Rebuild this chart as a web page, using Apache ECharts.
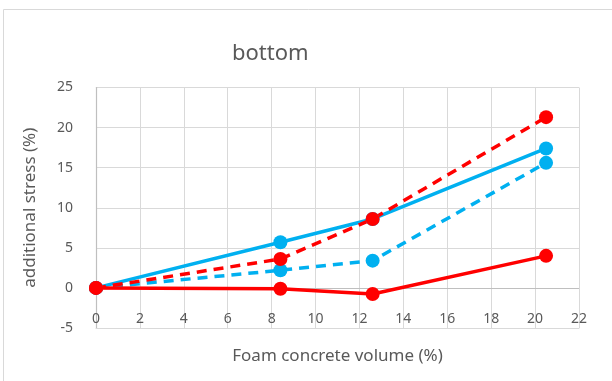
<!DOCTYPE html>
<html>
<head>
<meta charset="utf-8">
<script src="https://cdn.jsdelivr.net/npm/echarts@6/dist/echarts.min.js"></script>
<style>
  html, body { margin: 0; padding: 0; background: #fff; }
  #chart { width: 612px; height: 381px; }
</style>
</head>
<body>
<div id="chart"></div>
<script>
// Foam concrete volume (%) at each measurement point
const volumes = [0, 8.4, 12.6, 20.5];

// Additional stress (%) at the bottom, four cases
const blueSolid  = [0, 5.7, 8.6, 17.4];
const blueDashed = [0, 2.2, 3.4, 15.6];
const redSolid   = [0, -0.1, -0.75, 4.0];
const redDashed  = [0, 3.6, 8.6, 21.3];

const xTicks = { min: 0, max: 22, step: 2 };
const yTicks = { min: -5, max: 25, step: 5 };

const BLUE = '#00B0F0';
const RED = '#FF0000';
const TEXT = '#595959';
const AXIS = '#bfbfbf';
const GRID = '#d9d9d9';
const FONT = '"Noto Sans", "Open Sans", sans-serif';

function pairs(ys) {
  return volumes.map((x, i) => [x, ys[i]]);
}

function lineSeries(name, ys, color, dashed) {
  return {
    name,
    type: 'line',
    z: 6,
    data: pairs(ys),
    symbol: 'circle',
    symbolSize: 14,
    itemStyle: { color },
    lineStyle: {
      color,
      width: 3.5,
      type: dashed ? [10, 7] : 'solid'
    },
    emphasis: { disabled: true },
    animation: false
  };
}

const chart = echarts.init(document.getElementById('chart'), null, { renderer: 'canvas' });

// horizontal axis line drawn where stress is zero, kept under the data lines
const zeroLine = {
  name: 'zero',
  type: 'line',
  z: 1,
  data: [],
  markLine: {
    z: 1,
    silent: true,
    symbol: 'none',
    label: { show: false },
    lineStyle: { color: AXIS, width: 1.2, type: 'solid' },
    data: [{ yAxis: 0 }],
    animation: false
  }
};

chart.setOption({
  backgroundColor: '#ffffff',
  animation: false,
  textStyle: { fontFamily: FONT },
  title: {
    text: 'bottom',
    left: 227,
    top: 38,
    textStyle: { fontFamily: FONT, fontSize: 22, fontWeight: 'normal', color: TEXT }
  },
  graphic: [{
    type: 'rect',
    shape: { x: 3.5, y: 9.5, width: 640, height: 400 },
    style: { fill: 'none', stroke: GRID, lineWidth: 1 },
    silent: true
  }],
  grid: { left: 96, right: 33, top: 87.5, bottom: 53, outerBoundsMode: 'none', containLabel: false },
  xAxis: {
    type: 'value',
    min: xTicks.min,
    max: xTicks.max,
    interval: xTicks.step,
    name: 'Foam concrete volume (%)',
    nameLocation: 'middle',
    nameGap: 20,
    nameTextStyle: { fontFamily: FONT, fontSize: 17, color: TEXT },
    axisLine: { show: true, onZero: false, lineStyle: { color: GRID, width: 1 } },
    axisTick: { show: false },
    axisLabel: { inside: true, fontFamily: FONT, fontSize: 14, color: TEXT, margin: 2 },
    splitLine: { show: true, lineStyle: { color: GRID, width: 1 } }
  },
  yAxis: {
    type: 'value',
    min: yTicks.min,
    max: yTicks.max,
    interval: yTicks.step,
    name: 'additional stress (%)',
    nameLocation: 'middle',
    nameGap: 57,
    nameRotate: 90,
    nameTextStyle: { fontFamily: FONT, fontSize: 17, color: TEXT },
    axisLine: { show: true, lineStyle: { color: AXIS, width: 1.2 } },
    axisTick: { show: false },
    axisLabel: { fontFamily: FONT, fontSize: 14, color: TEXT, margin: 23 },
    splitLine: { show: true, lineStyle: { color: GRID, width: 1 } }
  },
  series: [
    zeroLine,
    lineSeries('blue solid', blueSolid, BLUE, false),
    lineSeries('blue dashed', blueDashed, BLUE, true),
    lineSeries('red solid', redSolid, RED, false),
    lineSeries('red dashed', redDashed, RED, true)
  ]
});
</script>
</body>
</html>
